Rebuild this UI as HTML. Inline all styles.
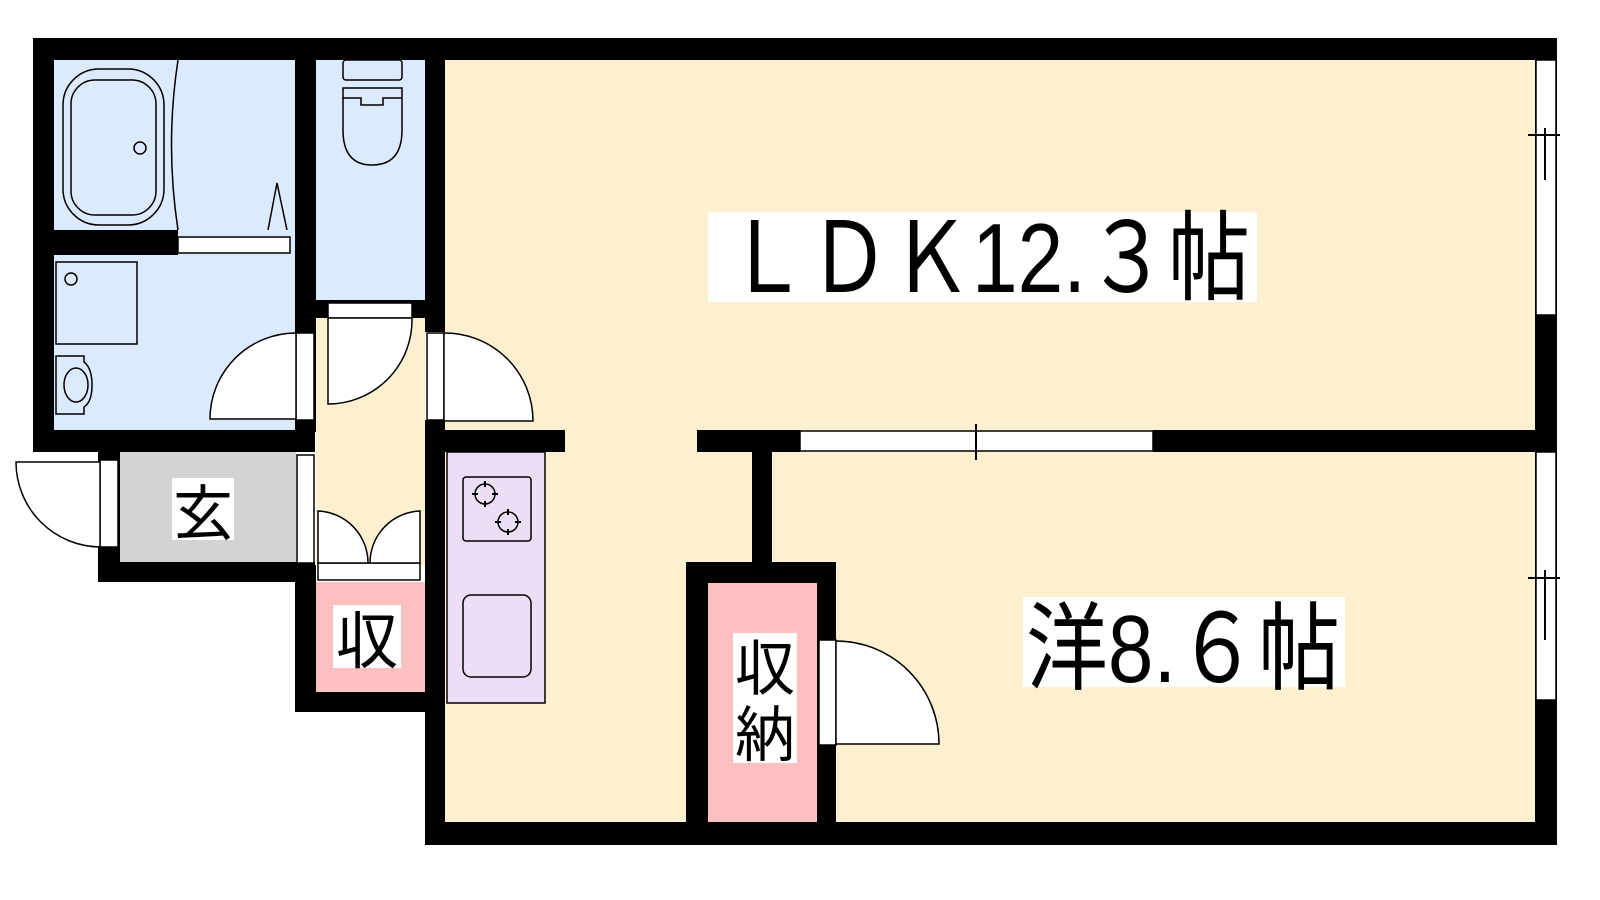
<!DOCTYPE html>
<html><head><meta charset="utf-8"><style>
html,body{margin:0;padding:0;background:#fff;}
svg{display:block;}
text{font-family:"Liberation Sans","Noto Sans CJK JP",sans-serif;fill:#000;}
</style></head><body>
<svg width="1600" height="900" viewBox="0 0 1600 900" xmlns="http://www.w3.org/2000/svg">
<!-- floors -->
<rect x="54" y="60" width="241" height="370" fill="#dbeafd"/>
<rect x="316" y="60" width="109" height="240" fill="#dbeafd"/>
<rect x="316" y="318" width="109" height="247" fill="#fdf0d0"/>
<rect x="445" y="60" width="1090" height="762" fill="#fdf0d0"/>
<rect x="120" y="452" width="176" height="110" fill="#d3d3d3"/>
<rect x="316" y="582" width="109" height="110" fill="#fcc0c0"/>
<rect x="708" y="583" width="109" height="239" fill="#fcc0c0"/>
<!-- walls -->
<g fill="#000">
<rect x="33" y="38" width="1524" height="22"/>
<rect x="33" y="38" width="21" height="414"/>
<rect x="33" y="430" width="282" height="22"/>
<rect x="54" y="230" width="124" height="25"/>
<rect x="295" y="60" width="21" height="372"/>
<rect x="316" y="300" width="109" height="18"/>
<rect x="425" y="60" width="20" height="272"/>
<rect x="425" y="420" width="20" height="425"/>
<rect x="425" y="430" width="140" height="22"/>
<rect x="98" y="452" width="22" height="130"/>
<rect x="98" y="562" width="217" height="20"/>
<rect x="295" y="565" width="21" height="147"/>
<rect x="295" y="692" width="150" height="20"/>
<rect x="697" y="430" width="103" height="22"/>
<rect x="1153" y="430" width="382" height="22"/>
<rect x="752" y="452" width="20" height="112"/>
<rect x="686" y="562" width="150" height="21"/>
<rect x="686" y="562" width="22" height="280"/>
<rect x="817" y="562" width="19" height="280"/>
<rect x="425" y="822" width="1132" height="23"/>
<rect x="1535" y="38" width="22" height="807"/>
</g>
<g fill="#fff" stroke="#000" stroke-width="1.5">
<rect x="178" y="237" width="112" height="16"/>
<rect x="328" y="303" width="84" height="15"/>
<rect x="1536" y="60" width="20" height="255"/>
<rect x="1536" y="452" width="20" height="248"/>
<rect x="800" y="431" width="353" height="20"/>
<rect x="296" y="333" width="18" height="87"/>
<rect x="427" y="333" width="17" height="87"/>
<rect x="100" y="460" width="18" height="87"/>
<rect x="297" y="455" width="17" height="108"/>
<rect x="318" y="563" width="102" height="17"/>
<rect x="819" y="640" width="17" height="105"/>
<path d="M296 333 A86 86 0 0 0 210 419 L296 419 Z"/>
<path d="M328 318 L412 318 A84 84 0 0 1 328 404 Z"/>
<path d="M444 333 A88 88 0 0 1 533 421 L444 421 Z"/>
<path d="M100 462 L16 462 A85 85 0 0 0 100 547 Z"/>
<path d="M836 641 A103 103 0 0 1 939 744 L836 744 Z"/>
<path d="M318 511 A52 52 0 0 1 368 563 L318 563 Z"/>
<path d="M420 511 A52 52 0 0 0 370 563 L420 563 Z"/>
<rect x="447" y="452" width="98" height="251" fill="#ecdff5"/>
<rect x="463" y="477" width="68" height="64" rx="3" fill="#ecdff5"/>
<rect x="463" y="595" width="68" height="82" rx="8" fill="#ecdff5"/>
<circle cx="485" cy="494" r="10" fill="none"/>
<circle cx="508" cy="522" r="10" fill="none"/>
<rect x="63" y="69" width="101" height="156" rx="36" fill="none"/>
<rect x="71" y="80" width="85" height="135" rx="24" fill="none"/>
<circle cx="140" cy="148" r="6" fill="none"/>
<path d="M178 60 Q165 145 178 230" fill="none"/>
<path d="M268 230 L277 183 L287 230" fill="none"/>
<rect x="56" y="262" width="81" height="82" fill="none"/>
<circle cx="71" cy="279" r="6" fill="none"/>
<path d="M56 356 L84 356 L84 362 Q92 368 92 385 Q92 402 84 407 L84 414 L56 414 Z" fill="none"/>
<ellipse cx="76" cy="385" rx="12" ry="17" fill="none"/>
<rect x="343" y="60" width="59" height="20" rx="3" fill="none"/>
<path d="M343 88 L402 88 L402 130 Q402 165 372 165 Q343 165 343 130 Z" fill="none"/>
<path d="M343 98 L361 98 L361 105 L383 105 L383 98 L402 98" fill="none"/>
</g>
<g stroke="#000" stroke-width="2" fill="none">
<path d="M485 481v6M485 501v6M472 494h6M492 494h6M508 509v6M508 529v6M495 522h6M515 522h6"/>
<line x1="976" y1="424" x2="976" y2="460"/>
<line x1="1528" y1="135" x2="1560" y2="135"/>
<line x1="1545" y1="128" x2="1545" y2="180"/>
<line x1="1528" y1="578" x2="1560" y2="578"/>
<line x1="1545" y1="570" x2="1545" y2="640"/>
</g>
<!-- labels -->
<rect x="708" y="212" width="549" height="90" fill="#fff"/>
<text x="726" y="292" font-size="98" textLength="524" lengthAdjust="spacingAndGlyphs">ＬＤＫ12.３帖</text>
<rect x="1023" y="597" width="322" height="90" fill="#fff"/>
<text x="1026" y="682" font-size="96" textLength="314" lengthAdjust="spacingAndGlyphs">洋8.６帖</text>
<rect x="172" y="478" width="62" height="62" fill="#fff"/>
<text x="173" y="535" font-size="60">玄</text>
<rect x="333" y="605" width="68" height="63" fill="#fff"/>
<text x="336" y="663" font-size="62">収</text>
<rect x="733" y="633" width="64" height="130" fill="#fff"/>
<text x="735" y="690" font-size="60">収</text>
<text x="735" y="756" font-size="60">納</text>
</svg>
</body></html>
